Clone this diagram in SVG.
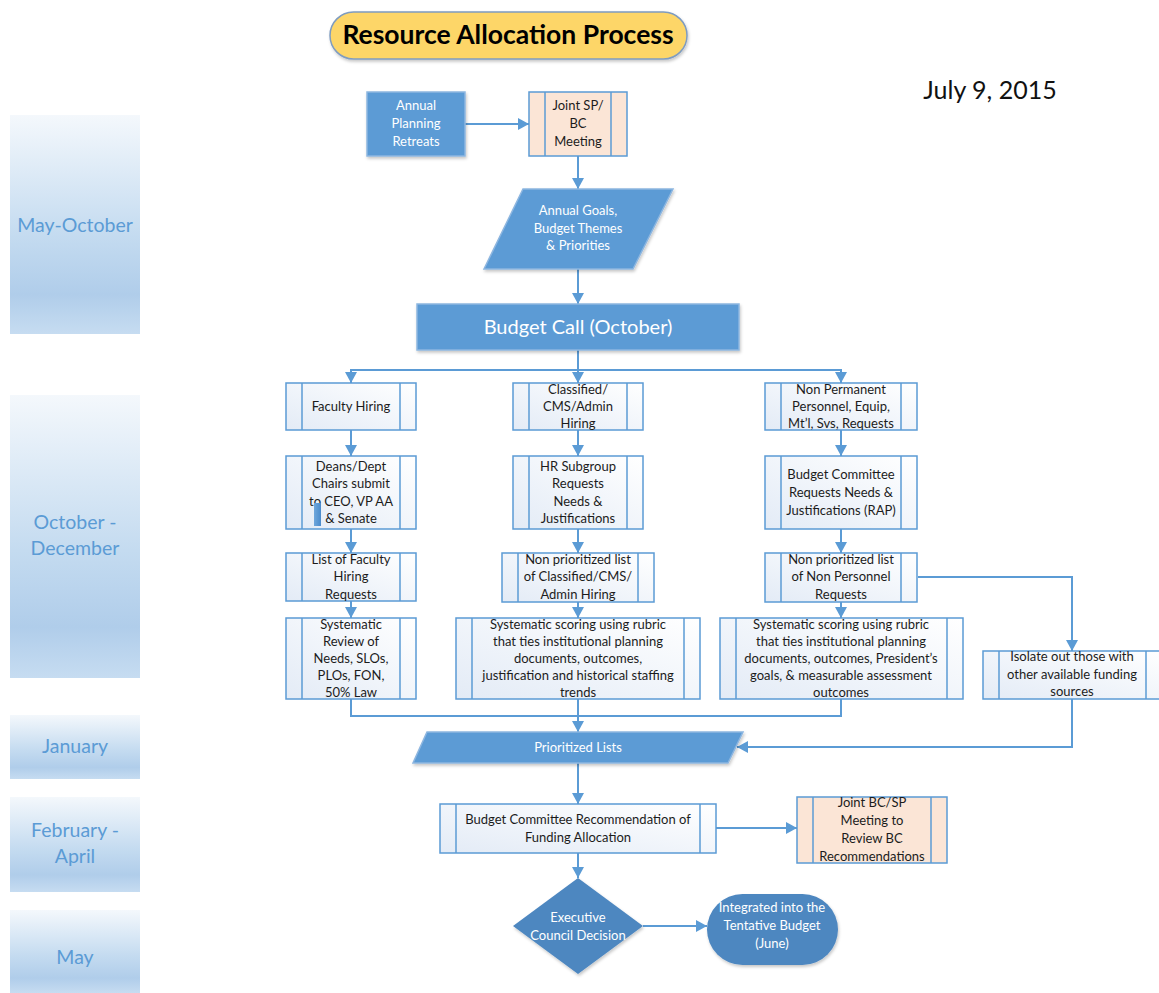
<svg xmlns="http://www.w3.org/2000/svg" width="1159" height="993" viewBox="0 0 1159 993">
<defs>
<linearGradient id="month" x1="0" y1="0" x2="0" y2="1">
<stop offset="0" stop-color="#f4f8fc"/>
<stop offset="0.55" stop-color="#c4dbf0"/>
<stop offset="0.82" stop-color="#b0cdea"/>
<stop offset="1" stop-color="#c6dcf1"/>
</linearGradient>
<linearGradient id="proc" x1="0" y1="1" x2="1" y2="0">
<stop offset="0" stop-color="#e3ebf6"/>
<stop offset="1" stop-color="#ffffff"/>
</linearGradient>
<linearGradient id="bar" x1="0" y1="0" x2="1" y2="0">
<stop offset="0" stop-color="#6fa7dc"/>
<stop offset="1" stop-color="#4a8bcc"/>
</linearGradient>
<filter id="sh" x="-10%" y="-10%" width="130%" height="140%">
<feDropShadow dx="1" dy="2" stdDeviation="1.5" flood-color="#000" flood-opacity="0.22"/>
</filter>
<marker id="ah" viewBox="0 0 11 12" refX="11" refY="6" markerWidth="11" markerHeight="12" markerUnits="userSpaceOnUse" orient="auto">
<path d="M0,0 L11,6 L0,12 z" fill="#5b9bd5"/>
</marker>
<style>
text{font-family:Lato,"Open Sans","Liberation Sans",sans-serif;text-anchor:middle}
.t{font-size:13px;fill:#1c1c1c}
.w{font-size:13px;fill:#ffffff}
.m{font-size:19.5px;fill:#5b9bd5}
.p{fill:url(#proc);stroke:#5b9bd5;stroke-width:1.5}
.pl{stroke:#5b9bd5;stroke-width:1.5;fill:none}
.pe{fill:#fbe5d6;stroke:#5b9bd5;stroke-width:1.5}
.b{fill:#5b9bd5;stroke:#8db6e0;stroke-width:1.5;filter:url(#sh)}
.d{fill:#4e87c0;filter:url(#sh)}
.c{fill:none;stroke:#5b9bd5;stroke-width:2}
.mb{fill:url(#month)}
</style>
</defs>
<rect width="1159" height="993" fill="#ffffff"/>

<g id="months">
<rect class="mb" x="10" y="115" width="130" height="219"/>
<text class="m" x="75" y="232">May-October</text>
<rect class="mb" x="10" y="395" width="130" height="283"/>
<text class="m" x="75" y="529">October -</text>
<text class="m" x="75" y="555">December</text>
<rect class="mb" x="10" y="715" width="130" height="64"/>
<text class="m" x="75" y="753">January</text>
<rect class="mb" x="10" y="797" width="130" height="95"/>
<text class="m" x="75" y="837">February -</text>
<text class="m" x="75" y="863">April</text>
<rect class="mb" x="10" y="910" width="130" height="83"/>
<text class="m" x="75" y="964">May</text>
</g>

<g id="title">
<rect x="330" y="12" width="357" height="47" rx="23.5" fill="#fdd668" stroke="#7f9cc0" stroke-width="1.5" filter="url(#sh)"/>
<text x="508" y="44" style="font-size:26.5px;font-weight:bold;fill:#000">Resource Allocation Process</text>
</g>
<g id="date">
<text x="990" y="99" style="font-size:25px;fill:#111">July 9, 2015</text>
</g>

<g id="connectors">
<path class="c" d="M465,124 H529" marker-end="url(#ah)"/>
<path class="c" d="M578,156 V189" marker-end="url(#ah)"/>
<path class="c" d="M578,269 V304" marker-end="url(#ah)"/>
<path class="c" d="M578,350 V383" marker-end="url(#ah)"/>
<path class="c" d="M578,370 H351 V383" marker-end="url(#ah)"/>
<path class="c" d="M578,370 H841 V383" marker-end="url(#ah)"/>
<path class="c" d="M351,430 V456" marker-end="url(#ah)"/>
<path class="c" d="M578,430 V456" marker-end="url(#ah)"/>
<path class="c" d="M841,430 V456" marker-end="url(#ah)"/>
<path class="c" d="M351,529 V553" marker-end="url(#ah)"/>
<path class="c" d="M578,529 V553" marker-end="url(#ah)"/>
<path class="c" d="M841,529 V553" marker-end="url(#ah)"/>
<path class="c" d="M351,601 V618" marker-end="url(#ah)"/>
<path class="c" d="M578,602 V618" marker-end="url(#ah)"/>
<path class="c" d="M841,602 V618" marker-end="url(#ah)"/>
<path class="c" d="M918,577 H1072 V651" marker-end="url(#ah)"/>
<path class="c" d="M351,699 V716 H578"/>
<path class="c" d="M841,699 V716 H578"/>
<path class="c" d="M578,699 V732" marker-end="url(#ah)"/>
<path class="c" d="M1072,699 V747 H737" marker-end="url(#ah)"/>
<path class="c" d="M578,763 V804" marker-end="url(#ah)"/>
<path class="c" d="M716,828 H797" marker-end="url(#ah)"/>
<path class="c" d="M578,853 V878" marker-end="url(#ah)"/>
<path class="c" d="M643,926 H707" marker-end="url(#ah)"/>
</g>

<g id="annual-planning">
<rect class="b" x="367" y="92" width="98" height="64"/>
<text class="w" x="416"><tspan x="416" y="110">Annual</tspan><tspan x="416" y="128">Planning</tspan><tspan x="416" y="146">Retreats</tspan></text>
</g>
<g id="joint-sp-bc">
<rect class="pe" x="529" y="92" width="98" height="64"/>
<line class="pl" x1="545" y1="92" x2="545" y2="156"/><line class="pl" x1="611" y1="92" x2="611" y2="156"/>
<text class="t" x="578"><tspan x="578" y="110">Joint SP/</tspan><tspan x="578" y="128">BC</tspan><tspan x="578" y="146">Meeting</tspan></text>
</g>
<g id="annual-goals">
<polygon class="b" points="523,189 673,189 633,269 484,269"/>
<text class="w" x="578"><tspan x="578" y="215">Annual Goals,</tspan><tspan x="578" y="233">Budget Themes</tspan><tspan x="578" y="250">&amp; Priorities</tspan></text>
</g>
<g id="budget-call">
<rect class="b" x="417" y="304" width="322" height="46"/>
<text x="578" y="334" style="font-size:20px;fill:#fff">Budget Call (October)</text>
</g>

<g id="faculty-hiring">
<rect class="p" x="286" y="383" width="130" height="47"/>
<line class="pl" x1="302" y1="383" x2="302" y2="430"/><line class="pl" x1="400" y1="383" x2="400" y2="430"/>
<text class="t" x="351" y="411">Faculty Hiring</text>
</g>
<g id="classified-hiring">
<rect class="p" x="513" y="383" width="130" height="47"/>
<line class="pl" x1="529" y1="383" x2="529" y2="430"/><line class="pl" x1="627" y1="383" x2="627" y2="430"/>
<text class="t" x="578"><tspan x="578" y="394">Classified/</tspan><tspan x="578" y="411">CMS/Admin</tspan><tspan x="578" y="428">Hiring</tspan></text>
</g>
<g id="non-permanent">
<rect class="p" x="765" y="383" width="152" height="47"/>
<line class="pl" x1="781" y1="383" x2="781" y2="430"/><line class="pl" x1="901" y1="383" x2="901" y2="430"/>
<text class="t" x="841"><tspan x="841" y="394">Non Permanent</tspan><tspan x="841" y="411">Personnel, Equip,</tspan><tspan x="841" y="428">Mt’l, Svs, Requests</tspan></text>
</g>

<g id="deans-chairs">
<rect class="p" x="286" y="456" width="130" height="73"/>
<line class="pl" x1="302" y1="456" x2="302" y2="529"/><line class="pl" x1="400" y1="456" x2="400" y2="529"/>
<text class="t" x="351"><tspan x="351" y="471">Deans/Dept</tspan><tspan x="351" y="488">Chairs submit</tspan><tspan x="351" y="506">to CEO, VP AA</tspan><tspan x="351" y="523">&amp; Senate</tspan></text>
<rect x="314" y="503" width="7" height="23" fill="url(#bar)"/>
</g>
<g id="hr-subgroup">
<rect class="p" x="513" y="456" width="130" height="73"/>
<line class="pl" x1="529" y1="456" x2="529" y2="529"/><line class="pl" x1="627" y1="456" x2="627" y2="529"/>
<text class="t" x="578"><tspan x="578" y="471">HR Subgroup</tspan><tspan x="578" y="488">Requests</tspan><tspan x="578" y="506">Needs &amp;</tspan><tspan x="578" y="523">Justifications</tspan></text>
</g>
<g id="bc-requests">
<rect class="p" x="765" y="456" width="152" height="73"/>
<line class="pl" x1="781" y1="456" x2="781" y2="529"/><line class="pl" x1="901" y1="456" x2="901" y2="529"/>
<text class="t" x="841"><tspan x="841" y="479">Budget Committee</tspan><tspan x="841" y="497">Requests Needs &amp;</tspan><tspan x="841" y="515">Justifications (RAP)</tspan></text>
</g>

<g id="list-faculty">
<rect class="p" x="286" y="553" width="130" height="48"/>
<line class="pl" x1="302" y1="553" x2="302" y2="601"/><line class="pl" x1="400" y1="553" x2="400" y2="601"/>
<text class="t" x="351"><tspan x="351" y="564">List of Faculty</tspan><tspan x="351" y="581">Hiring</tspan><tspan x="351" y="599">Requests</tspan></text>
</g>
<g id="list-classified">
<rect class="p" x="502" y="553" width="152" height="49"/>
<line class="pl" x1="518" y1="553" x2="518" y2="602"/><line class="pl" x1="638" y1="553" x2="638" y2="602"/>
<text class="t" x="578"><tspan x="578" y="564">Non prioritized list</tspan><tspan x="578" y="581">of Classified/CMS/</tspan><tspan x="578" y="599">Admin Hiring</tspan></text>
</g>
<g id="list-nonpersonnel">
<rect class="p" x="765" y="553" width="152" height="49"/>
<line class="pl" x1="781" y1="553" x2="781" y2="602"/><line class="pl" x1="901" y1="553" x2="901" y2="602"/>
<text class="t" x="841"><tspan x="841" y="564">Non prioritized list</tspan><tspan x="841" y="581">of Non Personnel</tspan><tspan x="841" y="599">Requests</tspan></text>
</g>

<g id="review-faculty">
<rect class="p" x="286" y="618" width="130" height="81"/>
<line class="pl" x1="302" y1="618" x2="302" y2="699"/><line class="pl" x1="400" y1="618" x2="400" y2="699"/>
<text class="t" x="351"><tspan x="351" y="629">Systematic</tspan><tspan x="351" y="646">Review of</tspan><tspan x="351" y="663">Needs, SLOs,</tspan><tspan x="351" y="680">PLOs, FON,</tspan><tspan x="351" y="697">50% Law</tspan></text>
</g>
<g id="scoring-classified">
<rect class="p" x="456" y="618" width="244" height="81"/>
<line class="pl" x1="472" y1="618" x2="472" y2="699"/><line class="pl" x1="684" y1="618" x2="684" y2="699"/>
<text class="t" x="578"><tspan x="578" y="629">Systematic scoring using rubric</tspan><tspan x="578" y="646">that ties institutional planning</tspan><tspan x="578" y="663">documents, outcomes,</tspan><tspan x="578" y="680">justification and historical staffing</tspan><tspan x="578" y="697">trends</tspan></text>
</g>
<g id="scoring-nonpersonnel">
<rect class="p" x="720" y="618" width="243" height="81"/>
<line class="pl" x1="736" y1="618" x2="736" y2="699"/><line class="pl" x1="947" y1="618" x2="947" y2="699"/>
<text class="t" x="841"><tspan x="841" y="629">Systematic scoring using rubric</tspan><tspan x="841" y="646">that ties institutional planning</tspan><tspan x="841" y="663">documents, outcomes, President’s</tspan><tspan x="841" y="680">goals, &amp; measurable assessment</tspan><tspan x="841" y="697">outcomes</tspan></text>
</g>
<g id="isolate">
<rect class="p" x="983" y="651" width="180" height="48"/>
<line class="pl" x1="999" y1="651" x2="999" y2="699"/><line class="pl" x1="1146" y1="651" x2="1146" y2="699"/>
<text class="t" x="1072"><tspan x="1072" y="661">Isolate out those with</tspan><tspan x="1072" y="679">other available funding</tspan><tspan x="1072" y="696">sources</tspan></text>
</g>

<g id="prioritized-lists">
<polygon class="b" points="427,732 743,732 728,763 413,763"/>
<text class="w" x="578" y="752">Prioritized Lists</text>
</g>
<g id="bc-recommendation">
<rect class="p" x="440" y="804" width="276" height="49"/>
<line class="pl" x1="456" y1="804" x2="456" y2="853"/><line class="pl" x1="700" y1="804" x2="700" y2="853"/>
<text class="t" x="578"><tspan x="578" y="824">Budget Committee Recommendation of</tspan><tspan x="578" y="842">Funding Allocation</tspan></text>
</g>
<g id="joint-bc-sp">
<rect class="pe" x="797" y="797" width="150" height="66"/>
<line class="pl" x1="813" y1="797" x2="813" y2="863"/><line class="pl" x1="931" y1="797" x2="931" y2="863"/>
<text class="t" x="872"><tspan x="872" y="807">Joint BC/SP</tspan><tspan x="872" y="825">Meeting to</tspan><tspan x="872" y="843">Review BC</tspan><tspan x="872" y="861">Recommendations</tspan></text>
</g>
<g id="executive-council">
<polygon class="d" points="578,878 643,926 578,974 513,926"/>
<text class="w" x="578"><tspan x="578" y="922">Executive</tspan><tspan x="578" y="940">Council Decision</tspan></text>
</g>
<g id="tentative-budget">
<rect class="d" x="707" y="894" width="131" height="71" rx="35.5"/>
<text class="w" x="772"><tspan x="772" y="912">Integrated into the</tspan><tspan x="772" y="930">Tentative Budget</tspan><tspan x="772" y="948">(June)</tspan></text>
</g>
</svg>
